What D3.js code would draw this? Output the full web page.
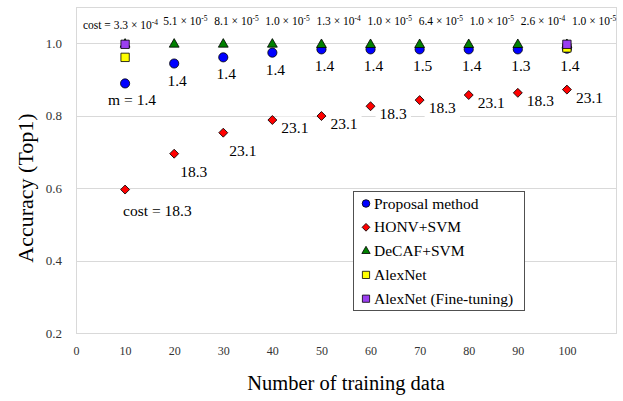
<!DOCTYPE html>
<html>
<head>
<meta charset="utf-8">
<script src="https://cdn.jsdelivr.net/npm/d3@7"></script>
<style>
body { margin: 0; background: #fff; }
svg { display: block; font-family: 'Liberation Serif', 'Times New Roman', serif; }
</style>
</head>
<body>
<div id="chart"></div>
<script>
'use strict';

var trainingData = [10, 20, 30, 40, 50, 60, 70, 80, 90, 100];
var xTicks = [0, 10, 20, 30, 40, 50, 60, 70, 80, 90, 100];
var yTicks = [0.2, 0.4, 0.6, 0.8, 1.0];

var proposalAcc = [0.889, 0.944, 0.961, 0.974, 0.983, 0.983, 0.983, 0.983, 0.983, 0.985];
var proposalM = ['1.4', '1.4', '1.4', '1.4', '1.4', '1.4', '1.5', '1.4', '1.3', '1.4'];
var costMantissa = ['3.3', '5.1', '8.1', '1.0', '1.3', '1.0', '6.4', '1.0', '2.6', '1.0'];
var costExponent = ['-4', '-5', '-5', '-5', '-4', '-5', '-5', '-5', '-4', '-5'];

var honvAcc = [0.596, 0.695, 0.753, 0.788, 0.799, 0.826, 0.843, 0.857, 0.863, 0.872];
var honvCost = ['18.3', '18.3', '23.1', '23.1', '23.1', '18.3', '18.3', '23.1', '18.3', '23.1'];

var decafAcc = [0.997, 0.997, 0.997, 0.997, 0.996, 0.996, 0.996, 0.996, 0.996, 0.996];

var alexNetData = [10, 100];
var alexNetAcc = [0.961, 0.987];
var alexNetFtAcc = [0.997, 0.997];

var legendLabels = ['Proposal method', 'HONV+SVM', 'DeCAF+SVM', 'AlexNet',
    'AlexNet (Fine-tuning)'];


var WIDTH = 623,
    HEIGHT = 401;

var svg = d3.select('#chart').append('svg')
    .attr('width', WIDTH)
    .attr('height', HEIGHT);

var x = d3.scaleLinear().domain([0, 110]).range([76, 616]);
var y = d3.scaleLinear().domain([0.2, 1.1]).range([333, 7]);

// diamonds are squares turned 45 degrees
var series = [
  {name: legendLabels[0], xs: trainingData, ys: proposalAcc, fill: '#0000ff',
    type: d3.symbolCircle, size: 66, legendSize: 46, rotate: 0},
  {name: legendLabels[1], xs: trainingData, ys: honvAcc, fill: '#ff0000',
    type: d3.symbolSquare, size: 40, legendSize: 30, rotate: 45},
  {name: legendLabels[2], xs: trainingData, ys: decafAcc, fill: '#008000',
    type: d3.symbolTriangle, size: 42, legendSize: 30, rotate: 0},
  {name: legendLabels[3], xs: alexNetData, ys: alexNetAcc, fill: '#ffff00',
    type: d3.symbolSquare, size: 70, legendSize: 52, rotate: 0},
  {name: legendLabels[4], xs: alexNetData, ys: alexNetFtAcc, fill: '#9b3ff0',
    type: d3.symbolSquare, size: 70, legendSize: 52, rotate: 0}
];

// plot frame and gridlines
svg.append('g')
    .selectAll('line')
    .data(yTicks)
    .join('line')
    .attr('x1', x(0))
    .attr('x2', x(110))
    .attr('y1', function (d) { return Math.round(y(d)) + 0.5; })
    .attr('y2', function (d) { return Math.round(y(d)) + 0.5; })
    .attr('stroke', '#d9d9d9');

svg.append('rect')
    .attr('x', x(0) + 0.5)
    .attr('y', y(1.1) + 0.5)
    .attr('width', x(110) - x(0))
    .attr('height', y(0.2) - y(1.1))
    .attr('fill', 'none')
    .attr('stroke', '#d9d9d9');

// axes, labels only
var xAxis = svg.append('g')
    .attr('transform', 'translate(0,' + y(0.2) + ')')
    .call(d3.axisBottom(x).tickValues(xTicks).tickSize(0).tickPadding(13)
        .tickFormat(d3.format('d')));

var yAxis = svg.append('g')
    .attr('transform', 'translate(' + x(0) + ',0)')
    .call(d3.axisLeft(y).tickValues(yTicks).tickSize(0).tickPadding(14)
        .tickFormat(d3.format('.1f')));

[xAxis, yAxis].forEach(function (axis) {
  axis.select('.domain').remove();
  axis.selectAll('text')
      .attr('font-family', "'Liberation Serif', serif")
      .attr('fill', '#333');
});
xAxis.selectAll('text').attr('font-size', 12);
yAxis.selectAll('text').attr('font-size', 13);

// axis titles
svg.append('text')
    .attr('transform', 'translate(33,188) rotate(-90)')
    .attr('text-anchor', 'middle')
    .attr('font-size', 22)
    .text('Accuracy (Top1)');

svg.append('text')
    .attr('x', 346)
    .attr('y', 390)
    .attr('text-anchor', 'middle')
    .attr('font-size', 20.5)
    .text('Number of training data');

// HONV cost labels sit on white boxes that hide the grid
var honvLabels = svg.append('g')
    .selectAll('g')
    .data(trainingData)
    .join('g');

honvLabels.append('text')
    .attr('font-size', 15.5)
    .attr('x', function (d, i) {
      if (i === 0) {
        return x(d) - 2;
      }
      return x(d) + (d <= 30 ? 6 : 9);
    })
    .attr('y', function (d, i) {
      if (i === 0) {
        return y(honvAcc[i]) + 26;
      }
      return y(honvAcc[i]) + (d <= 30 ? 23 : 13);
    })
    .text(function (d, i) {
      return (i === 0 ? 'cost = ' : '') + honvCost[i];
    });

honvLabels.each(function () {
  var g = d3.select(this),
      box = g.select('text').node().getBBox();
  g.insert('rect', 'text')
      .attr('x', box.x - 4)
      .attr('y', box.y + box.height / 2 - 11)
      .attr('width', box.width + 8)
      .attr('height', 22)
      .attr('fill', '#fff');
});

// proposal method m labels
svg.append('g')
    .selectAll('text')
    .data(trainingData)
    .join('text')
    .attr('font-size', 15.5)
    .attr('text-anchor', 'middle')
    .attr('x', function (d, i) { return x(d) + (i === 0 ? 7 : 3); })
    .attr('y', function (d, i) { return y(proposalAcc[i]) + 22; })
    .text(function (d, i) {
      return (i === 0 ? 'm = ' : '') + proposalM[i];
    });

// proposal method cost labels along the top
var costLabels = svg.append('g')
    .selectAll('text')
    .data(trainingData)
    .join('text')
    .attr('font-size', 11.5)
    .attr('text-anchor', function (d, i) { return i === 0 ? 'end' : 'start'; })
    .attr('x', function (d, i) {
      if (i === 0) {
        return x(d) + 33;
      }
      return x(d) - 11 + (d - 20) * 0.2;
    })
    .attr('y', function (d, i) { return i === 0 ? 29 : 25; });

costLabels.append('tspan')
    .text(function (d, i) {
      return (i === 0 ? 'cost = ' : '') + costMantissa[i] + ' \u00d7 10';
    });
costLabels.append('tspan')
    .attr('font-size', 7.5)
    .attr('dy', -4)
    .text(function (d, i) { return costExponent[i]; });

// markers
series.forEach(function (s) {
  svg.append('g')
      .selectAll('path')
      .data(s.xs)
      .join('path')
      .attr('d', d3.symbol().type(s.type).size(s.size))
      .attr('transform', function (d, i) {
        return 'translate(' + x(d) + ',' + y(s.ys[i]) + ') rotate(' + s.rotate + ')';
      })
      .attr('fill', s.fill)
      .attr('stroke', '#000')
      .attr('stroke-width', 0.8);
});

// legend
var legend = svg.append('g')
    .attr('transform', 'translate(353,191)');

legend.append('rect')
    .attr('x', 0.5)
    .attr('y', 0.5)
    .attr('width', 171)
    .attr('height', 119)
    .attr('fill', '#fff')
    .attr('stroke', '#505050');

var legendItems = legend.selectAll('g.item')
    .data(series)
    .join('g')
    .attr('class', 'item')
    .attr('transform', function (d, i) {
      return 'translate(13,' + (12.5 + i * 23.8) + ')';
    });

legendItems.append('path')
    .attr('d', function (d) { return d3.symbol().type(d.type).size(d.legendSize)(); })
    .attr('transform', function (d) { return 'rotate(' + d.rotate + ')'; })
    .attr('fill', function (d) { return d.fill; })
    .attr('stroke', '#000')
    .attr('stroke-width', 0.8);

legendItems.append('text')
    .attr('x', 8)
    .attr('y', 5)
    .attr('font-size', 15.5)
    .text(function (d) { return d.name; });
</script>
</body>
</html>
